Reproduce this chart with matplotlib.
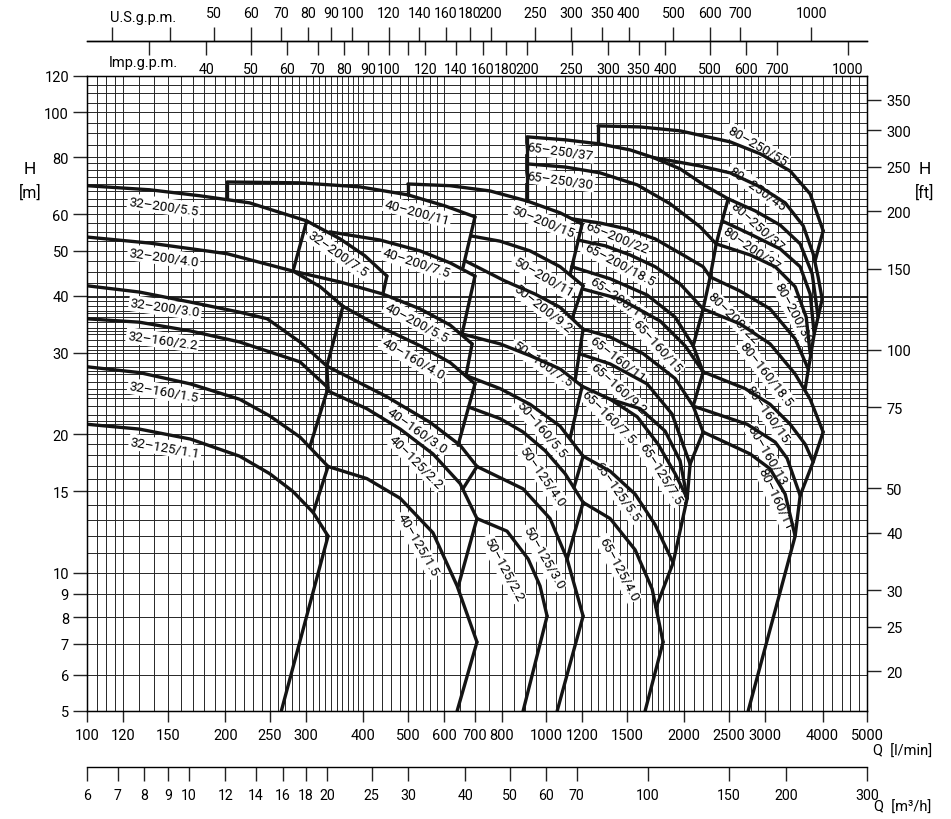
import matplotlib
matplotlib.use("Agg")
import matplotlib.pyplot as plt
from matplotlib.ticker import NullLocator

# ---------------- axis scales ----------------
q_ticks = [100, 120, 150, 200, 250, 300, 400, 500, 600, 700, 800, 1000, 1200, 1500,
           2000, 2500, 3000, 4000, 5000]
h_ticks = [5, 6, 7, 8, 9, 10, 15, 20, 30, 40, 50, 60, 80, 100, 120]
ft_ticks = [20, 25, 30, 40, 50, 75, 100, 150, 200, 250, 300, 350]
m3h_ticks = [6, 7, 8, 9, 10, 12, 14, 16, 18, 20, 25, 30, 40, 50, 60, 70, 100, 150, 200, 300]
us_ticks = [30, 40, 50, 60, 70, 80, 90, 100, 120, 140, 160, 180, 200, 250, 300, 350, 400,
            500, 600, 700, 1000]
us_labels = ["", "", "50", "60", "70", "80", "90", "100", "120", "140", "160", "180", "200",
             "250", "300", "350", "400", "500", "600", "700", "1000"]
imp_ticks = [30, 40, 50, 60, 70, 80, 90, 100, 110, 120, 140, 160, 180, 200, 250, 300, 350,
             400, 500, 600, 700, 1000]
imp_labels = ["", "40", "50", "60", "70", "80", "90", "100", "", "120", "140", "160", "180",
              "200", "250", "300", "350", "400", "500", "600", "700", "1000"]

# ---------------- pump curves: Q [l/min], H [m] ----------------
# series 32
q_32_200_55 = [100, 137, 176, 226, 301, 356, 403, 450]
h_32_200_55 = [69.3, 67.9, 65.9, 63.6, 58.1, 53.1, 48.8, 44.1]
q_32_200_40 = [100, 137, 202, 281, 322, 361]
h_32_200_40 = [53.6, 52.0, 49.3, 45.2, 41.8, 37.9]
q_32_200_30 = [100, 130, 168, 215, 247, 291, 333]
h_32_200_30 = [42.0, 40.7, 38.7, 36.8, 35.6, 31.7, 28.1]
q_32_160_22 = [100, 130, 168, 215, 291, 335]
h_32_160_22 = [35.6, 35.0, 33.5, 31.7, 28.7, 25.2]
q_32_160_15 = [100, 130, 168, 215, 250, 291, 335]
h_32_160_15 = [28.0, 27.2, 25.7, 23.8, 21.9, 19.7, 17.0]
q_32_125_11 = [100, 130, 168, 215, 250, 281, 311, 335]
h_32_125_11 = [21.0, 20.5, 19.5, 17.9, 16.4, 15.0, 13.5, 12.0]

# series 40
q_40_200_11 = [202, 291, 393, 500, 603, 700]
h_40_200_11 = [70.6, 70.3, 68.9, 66.2, 62.6, 59.3]
q_40_200_75 = [338, 435, 532, 618, 700]
h_40_200_75 = [55.0, 52.8, 50.0, 47.1, 44.1]
q_40_200_55 = [281, 356, 441, 532, 618, 690]
h_40_200_55 = [45.2, 42.8, 40.3, 37.4, 34.5, 31.4]
q_40_160_40 = [361, 435, 532, 618, 700]
h_40_160_40 = [37.9, 34.2, 31.1, 28.6, 25.7]
q_40_160_30 = [333, 450, 559, 650, 707]
h_40_160_30 = [28.1, 24.1, 21.2, 18.9, 17.0]
q_40_125_22 = [335, 407, 481, 567, 650, 707]
h_40_125_22 = [24.8, 22.7, 20.5, 18.1, 15.6, 13.1]
q_40_125_15 = [335, 407, 481, 567, 640, 707]
h_40_125_15 = [17.0, 16.0, 14.5, 12.2, 9.35, 7.06]

# series 50
q_50_200_15 = [500, 618, 755, 909, 1073, 1198]
h_50_200_15 = [69.9, 69.3, 67.5, 64.2, 60.5, 57.2]
q_50_200_11 = [686, 794, 923, 1073, 1204]
h_50_200_11 = [53.9, 52.5, 50.0, 46.2, 42.0]
q_50_200_92 = [666, 814, 946, 1073, 1204]
h_50_200_92 = [47.6, 43.0, 40.3, 37.7, 33.8]
q_50_160_75 = [656, 794, 923, 1073, 1198]
h_50_160_75 = [33.0, 31.4, 29.6, 27.7, 25.4]
q_50_160_55 = [669, 794, 923, 1073, 1204]
h_50_160_55 = [26.8, 25.1, 23.2, 20.8, 17.9]
q_50_125_40 = [677, 794, 891, 995, 1100, 1204]
h_50_125_40 = [22.9, 21.6, 20.2, 18.4, 16.4, 14.2]
q_50_125_30 = [707, 891, 1020, 1111, 1204]
h_50_125_30 = [17.0, 15.2, 13.1, 10.7, 8.04]
q_50_125_22 = [707, 822, 914, 970, 1005]
h_50_125_22 = [13.1, 12.3, 10.7, 9.35, 8.04]

# series 65
q_65_250_37 = [909, 1100, 1311, 1524, 1711, 1958, 2220, 2492]
h_65_250_37 = [88.5, 87.2, 85.4, 82.9, 79.8, 75.4, 69.3, 64.9]
q_65_250_30 = [909, 1100, 1311, 1579, 1863, 2165, 2347]
h_65_250_30 = [77.3, 76.1, 73.9, 69.6, 63.3, 56.4, 51.8]
q_65_200_22 = [1140, 1311, 1502, 1728, 1988, 2198, 2277]
h_65_200_22 = [58.7, 57.5, 55.8, 53.1, 49.0, 46.2, 43.9]
q_65_200_185 = [1174, 1345, 1524, 1728, 1958, 2198]
h_65_200_185 = [52.8, 51.3, 49.0, 46.2, 42.4, 37.4]
q_65_200_15 = [1137, 1379, 1660, 1910, 2091]
h_65_200_15 = [46.2, 43.5, 40.1, 35.9, 31.1]
q_65_160_15 = [1204, 1450, 1772, 2008, 2198]
h_65_160_15 = [41.3, 39.3, 35.2, 31.1, 27.3]
q_65_160_11 = [1204, 1379, 1627, 1910, 2091, 2198]
h_65_160_11 = [33.8, 32.5, 29.9, 26.4, 23.0, 20.2]
q_65_160_92 = [1180, 1379, 1660, 1881, 2059]
h_65_160_92 = [29.9, 28.4, 25.7, 22.1, 17.2]
q_65_160_75 = [1198, 1379, 1579, 1754, 1910, 2029]
h_65_160_75 = [25.4, 23.8, 21.8, 19.0, 16.4, 14.5]
q_65_125_75 = [1379, 1603, 1816, 1958, 2029]
h_65_125_75 = [23.8, 22.7, 20.3, 17.5, 14.5]
q_65_125_55 = [1204, 1379, 1563, 1728, 1891]
h_65_125_55 = [17.9, 16.6, 14.8, 12.7, 10.5]
q_65_125_40 = [1204, 1379, 1563, 1702, 1798]
h_65_125_40 = [14.2, 13.1, 11.2, 9.21, 7.06]

# series 80
q_80_250_55 = [1298, 1603, 1958, 2517, 2926, 3401, 3760, 4013]
h_80_250_55 = [93.5, 93.0, 91.2, 86.3, 81.3, 74.6, 66.5, 55.3]
q_80_250_45 = [1711, 2165, 2517, 2926, 3317, 3631, 3817, 3913, 3993]
h_80_250_45 = [79.8, 76.5, 73.9, 68.9, 63.6, 56.7, 49.3, 43.9, 39.3]
q_80_250_37 = [2492, 2854, 3235, 3576, 3798, 3913]
h_80_250_37 = [64.9, 61.1, 56.9, 51.8, 44.6, 35.9]
q_80_200_37 = [2418, 2783, 3235, 3576, 3760, 3837]
h_80_200_37 = [58.1, 54.4, 50.5, 46.2, 40.3, 33.0]
q_80_200_30 = [2347, 2783, 3155, 3487, 3686, 3760]
h_80_200_30 = [51.8, 49.0, 46.2, 41.8, 35.9, 29.9]
q_80_200_22 = [2277, 2647, 3076, 3487, 3723]
h_80_200_22 = [43.9, 40.9, 37.4, 32.2, 27.7]
q_80_160_185 = [2198, 2647, 3076, 3487, 3760, 4013]
h_80_160_185 = [37.4, 34.7, 31.4, 27.0, 23.8, 20.2]
q_80_160_15 = [2198, 2714, 3076, 3401, 3667, 3817]
h_80_160_15 = [27.3, 25.1, 23.2, 21.0, 19.0, 17.4]
q_80_160_13 = [2091, 2741, 3155, 3350, 3576]
h_80_160_13 = [23.0, 21.0, 19.2, 17.7, 14.7]
q_80_160_11 = [2198, 2783, 3076, 3317, 3487]
h_80_160_11 = [20.2, 18.1, 16.8, 14.8, 12.0]

# ---------------- field boundaries (Q, H) ----------------
edges = [
    ([202, 202], [70.6, 64.9]),
    ([281, 301], [45.2, 58.1]),
    ([450, 441], [44.1, 40.3]),
    ([361, 333, 335, 306], [37.9, 28.1, 25.2, 18.8]),
    ([335, 311], [17.0, 13.5]),
    ([335, 265], [12.0, 5.0]),
    ([700, 659], [59.3, 46.0]),
    ([700, 656], [44.1, 33.0]),
    ([690, 669], [31.4, 26.8]),
    ([700, 643], [25.7, 18.9]),
    ([707, 659], [17.0, 15.2]),
    ([707, 643], [13.1, 9.3]),
    ([707, 640], [7.06, 5.0]),
    ([500, 500], [69.9, 66.2]),
    ([1198, 1128], [57.2, 44.5]),
    ([1204, 1140], [42.0, 35.7]),
    ([1204, 1157], [33.8, 26.2]),
    ([1198, 1128], [25.4, 19.6]),
    ([1204, 1150], [17.9, 15.3]),
    ([1204, 1111], [14.2, 10.7]),
    ([1204, 1057], [8.04, 5.0]),
    ([1005, 891], [8.04, 5.0]),
    ([909, 909], [88.5, 64.2]),
    ([2492, 2418, 2347, 2277, 2198], [64.9, 58.1, 51.8, 43.9, 37.4]),
    ([2198, 2091, 2198, 2091], [37.4, 31.1, 27.3, 23.0]),
    ([2198, 2059, 2029, 1891, 1736], [20.2, 17.2, 14.5, 10.5, 8.4]),
    ([1798, 1643], [7.06, 5.0]),
    ([1298, 1298], [93.5, 85.4]),
    ([4013, 3850], [55.3, 47.4]),
    ([3993, 3837, 3667], [39.3, 33.0, 25.1]),
    ([4013, 3817, 3576, 3487, 2755], [20.2, 17.4, 14.7, 12.0, 5.0]),
]

curves = [
    (q_32_200_55, h_32_200_55), (q_32_200_40, h_32_200_40), (q_32_200_30, h_32_200_30),
    (q_32_160_22, h_32_160_22), (q_32_160_15, h_32_160_15), (q_32_125_11, h_32_125_11),
    (q_40_200_11, h_40_200_11), (q_40_200_75, h_40_200_75), (q_40_200_55, h_40_200_55),
    (q_40_160_40, h_40_160_40), (q_40_160_30, h_40_160_30), (q_40_125_22, h_40_125_22),
    (q_40_125_15, h_40_125_15),
    (q_50_200_15, h_50_200_15), (q_50_200_11, h_50_200_11), (q_50_200_92, h_50_200_92),
    (q_50_160_75, h_50_160_75), (q_50_160_55, h_50_160_55), (q_50_125_40, h_50_125_40),
    (q_50_125_30, h_50_125_30), (q_50_125_22, h_50_125_22),
    (q_65_250_37, h_65_250_37), (q_65_250_30, h_65_250_30), (q_65_200_22, h_65_200_22),
    (q_65_200_185, h_65_200_185), (q_65_200_15, h_65_200_15), (q_65_160_15, h_65_160_15),
    (q_65_160_11, h_65_160_11), (q_65_160_92, h_65_160_92), (q_65_160_75, h_65_160_75),
    (q_65_125_75, h_65_125_75), (q_65_125_55, h_65_125_55), (q_65_125_40, h_65_125_40),
    (q_80_250_55, h_80_250_55), (q_80_250_45, h_80_250_45), (q_80_250_37, h_80_250_37),
    (q_80_200_37, h_80_200_37), (q_80_200_30, h_80_200_30), (q_80_200_22, h_80_200_22),
    (q_80_160_185, h_80_160_185), (q_80_160_15, h_80_160_15), (q_80_160_13, h_80_160_13),
    (q_80_160_11, h_80_160_11),
]

# ---------------- curve labels ----------------
label_text = ["32–200/5.5", "32–200/4.0", "32–200/3.0", "32–160/2.2", "32–160/1.5",
              "32–125/1.1", "32–200/7.5",
              "40–200/11", "40–200/7.5", "40–200/5.5", "40–160/4.0", "40–160/3.0",
              "40–125/2.2", "40–125/1.5",
              "50–200/15", "50–200/11", "50–200/9.2", "50–160/7.5", "50–160/5.5",
              "50–125/4.0", "50–125/3.0", "50–125/2.2",
              "65–250/37", "65–250/30", "65–200/22", "65–200/18.5", "65–200/15",
              "65–160/15", "65–160/11", "65–160/9.2", "65–160/7.5", "65–125/7.5",
              "65–125/5.5", "65–125/4.0",
              "80–250/55", "80–250/45", "80–250/37", "80–200/37", "80–200/30",
              "80–200/22", "80–160/18.5", "80–160/15", "80–160/13", "80–160/11"]
label_q = [147, 147, 148, 146, 147, 148, 352,
           524, 521, 524, 513, 524, 521, 526,
           985, 985, 980, 980, 975, 980, 985, 806,
           1073, 1073, 1428, 1443, 1435, 1745, 1428, 1435, 1365, 1772, 1428, 1435,
           2883, 2883, 2883, 2797, 3452, 2555, 3015, 3030, 3030, 3155]
label_h = [62.6, 48.5, 37.6, 32.0, 24.7, 18.7, 49.3,
           60.8, 47.1, 35.0, 29.1, 20.4, 17.4, 11.5,
           58.1, 43.9, 37.6, 28.4, 20.5, 16.2, 10.8, 10.2,
           82.5, 71.4, 53.6, 46.7, 39.5, 31.1, 29.1, 25.1, 21.8, 16.4, 15.0, 10.2,
           84.6, 68.5, 56.7, 50.7, 36.8, 35.8, 27.0, 22.1, 18.0, 14.5]
label_rot = [-8, -8, -8, -8, -10, -10, -35,
             -15, -18, -28, -30, -35, -45, -60,
             -22, -30, -38, -35, -50, -55, -60, -62,
             -8, -8, -22, -28, -35, -48, -38, -42, -45, -58, -55, -62,
             -30, -35, -42, -35, -62, -45, -52, -55, -60, -65]

plt.rcParams["font.family"] = ["Roboto", "DejaVu Sans"]
fs = 10.5
lfs = 9.6

# ---------------- figure ----------------
W, HPX = 951, 820
L, R = 87 / W, 867 / W
fig = plt.figure(figsize=(9.51, 8.20), dpi=100, facecolor="white")
ax = fig.add_axes([L, 1 - 712 / HPX, R - L, (712 - 77) / HPX])
ax.set_xscale("log")
ax.set_yscale("log")
ax.set_xlim(100, 5000)
ax.set_ylim(5, 120)

# dense chart grid (irregular like the printed chart)
grid_q = (list(range(100, 120, 5)) + list(range(120, 400, 10)) + list(range(400, 600, 20))
          + list(range(600, 2000, 50)) + list(range(2000, 3000, 100)) + list(range(3000, 5001, 200)))
grid_h = (list(range(5, 40)) + [40 + 2.5 * i for i in range(16)] + list(range(80, 121, 5))
          + [ft * 0.3048 for ft in range(70, 141, 10)])
ax.vlines(grid_q, 5, 120, colors="#262626", lw=0.7, zorder=1)
ax.hlines(grid_h, 100, 5000, colors="#262626", lw=0.7, zorder=1)

for q, h in curves + edges:
    ax.plot(q, h, color="#141414", lw=2.4, solid_capstyle="round",
            solid_joinstyle="round", zorder=4)

for t, q, h, r in zip(label_text, label_q, label_h, label_rot):
    ax.text(q, h, t, rotation=r, rotation_mode="anchor", ha="center", va="center",
            fontsize=lfs, color="black", zorder=3,
            bbox=dict(facecolor="white", edgecolor="none", pad=1.2))

ax.set_xticks(q_ticks, [str(v) for v in q_ticks])
ax.set_yticks(h_ticks, [str(v) for v in h_ticks])
ax.xaxis.set_minor_locator(NullLocator())
ax.yaxis.set_minor_locator(NullLocator())
ax.tick_params(axis="x", length=8, width=1, pad=4, labelsize=fs, color="#222222")
ax.tick_params(axis="y", length=10, width=1, pad=3, labelsize=fs, color="#222222")
for s in ax.spines.values():
    s.set_linewidth(1.0)

ax2 = ax.twinx()
ax2.set_yscale("log")
ax2.set_ylim(5 / 0.3048, 120 / 0.3048)
ax2.set_yticks(ft_ticks, [str(v) for v in ft_ticks])
ax2.yaxis.set_minor_locator(NullLocator())
ax2.tick_params(axis="y", length=10, width=1, pad=4, labelsize=fs, color="#222222")


def unit_axis(bottom, lim, ticks, labels, on_top):
    a = fig.add_axes([L, bottom, R - L, 1e-4])
    a.set_xscale("log")
    a.set_xlim(*lim)
    a.patch.set_visible(False)
    a.set_yticks([])
    for k in ("left", "right", "top", "bottom"):
        a.spines[k].set_visible(False)
    side = "top" if on_top else "bottom"
    a.spines[side].set_visible(True)
    a.spines[side].set_linewidth(1.0)
    a.xaxis.set_ticks_position(side)
    a.set_xticks(ticks, labels)
    a.xaxis.set_minor_locator(NullLocator())
    a.tick_params(axis="x", length=10, width=1, pad=5, labelsize=fs - 0.3, color="#222222")
    return a


unit_axis(1 - 42 / HPX - 1e-4, (100 / 3.785, 5000 / 3.785), us_ticks, us_labels, True)
unit_axis(1 - 42 / HPX, (100 / 4.546, 5000 / 4.546), imp_ticks, imp_labels, False)
unit_axis(1 - 768 / HPX, (6, 300), m3h_ticks, [str(v) for v in m3h_ticks], False)

fig.text(143 / W, 1 - 18 / HPX, "U.S.g.p.m.", ha="center", va="center", fontsize=fs)
fig.text(143 / W, 1 - 63 / HPX, "Imp.g.p.m.", ha="center", va="center", fontsize=fs)
fig.text(30 / W, 1 - 170 / HPX, "H", ha="center", va="center", fontsize=fs + 2)
fig.text(30 / W, 1 - 193 / HPX, "[m]", ha="center", va="center", fontsize=fs + 1)
fig.text(925 / W, 1 - 170 / HPX, "H", ha="center", va="center", fontsize=fs + 2)
fig.text(925 / W, 1 - 193 / HPX, "[ft]", ha="center", va="center", fontsize=fs + 1)
fig.text(903 / W, 1 - 752 / HPX, "Q  [l/min]", ha="center", va="center", fontsize=fs)
fig.text(903 / W, 1 - 808 / HPX, "Q  [m³/h]", ha="center", va="center", fontsize=fs)

fig.savefig("out.png", dpi=100, facecolor="white")
